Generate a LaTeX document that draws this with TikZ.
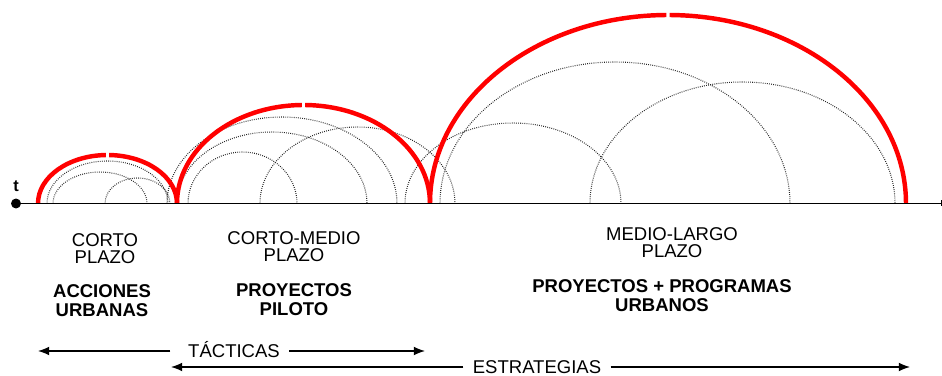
\documentclass[tikz,border=0pt]{standalone}
\usepackage{fontspec}
\setmainfont{Liberation Sans}
\usetikzlibrary{arrows.meta}

\begin{document}
\begin{tikzpicture}[x=0.03cm, y=0.03cm,
  plazo/.style={align=center, inner sep=0pt, font=\fontsize{15.8}{14.5}\selectfont},
  accion/.style={align=center, inner sep=0pt, font=\fontsize{15.8}{16.2}\selectfont\bfseries},
  rango/.style={inner sep=0pt, text height=11.3pt, text depth=0pt, font=\fontsize{15.8}{16}\selectfont},
  arco/.style={red, line width=3.8pt},
  ciclo/.style={black!85, line width=0.9pt, dash pattern=on 0.7pt off 1.1pt},
  flecha/.style={line width=1.1pt, -{Latex[length=9.5pt, width=7.5pt]}}]
 \useasboundingbox (0,0) rectangle (942,-376);

 % Ciclos (punteados)
 \foreach \cx/\rx/\ry in {107.5/60.5/42.5, 100/47/31.5, 137.5/32.5/25.5,
                          282/115/86.5, 272/95/71.5, 242.5/54.5/51.5, 357.5/97.5/76.5,
                          513/108/80.5, 615/175/141.5, 742.5/152.5/121.5}
  \draw[ciclo] (\cx-\rx,-203.5) arc[start angle=180, end angle=0, x radius=\rx, y radius=\ry];

 % Plazos (arcos rojos)
 \foreach \cx/\rx/\ry/\g in {107.5/69.5/48.5/1.3, 303.5/126.5/98.5/0.7, 668/238/188.5/0.4}{
  \draw[arco] (\cx-\rx,-203.5)
   arc[start angle=180, end angle=90+\g, x radius=\rx, y radius=\ry];
  \draw[arco] (\cx+\rx,-203.5)
   arc[start angle=0, end angle=90-\g, x radius=\rx, y radius=\ry];
 }

 % Eje del tiempo
 \node[circle, fill, inner sep=0pt, minimum size=8.5pt] (t0) at (16,-203.5) {};
 \node[anchor=base, inner sep=0pt, font=\fontsize{14}{14}\selectfont\bfseries] (tlab) at (16,-192) {t};
 \coordinate (tfin) at (941,-203.5);
 \draw[line width=1pt] (t0.center) -- (tfin);
 \draw[line width=0.6pt] (tfin) ++(0,3) -- ++(0,-6);

 % Etiquetas
 \node[plazo]  (corto)   at (105,-248.5) {CORTO\\PLAZO};
 \node[accion] (acciones) at (102,-300.5) {ACCIONES\\URBANAS};
 \node[plazo]  (cmedio)  at (294,-247)   {CORTO-MEDIO\\PLAZO};
 \node[accion] (piloto)  at (294,-299.5) {PROYECTOS\\PILOTO};
 \node[plazo]  (mlargo)  at (672,-242.5) {MEDIO-LARGO\\PLAZO};
 \node[accion] (programas) at (662,-295.5) {PROYECTOS + PROGRAMAS\\URBANOS};

 % Tacticas y estrategias
 \node[rango] (tac) at (234,-351) {TÁCTICAS};
 \coordinate (tacIzq) at (38,-351);
 \coordinate (tacDer) at (425,-351);
 \draw[flecha] ([xshift=-15pt]tac.west) -- (tacIzq);
 \draw[flecha] ([xshift=8pt]tac.east) -- (tacDer);

 \node[rango] (est) at (537,-367) {ESTRATEGIAS};
 \coordinate (estIzq) at (171,-367);
 \coordinate (estDer) at (910,-367);
 \draw[flecha] ([xshift=-8pt]est.west) -- (estIzq);
 \draw[flecha] ([xshift=8pt]est.east) -- (estDer);
\end{tikzpicture}
\end{document}
